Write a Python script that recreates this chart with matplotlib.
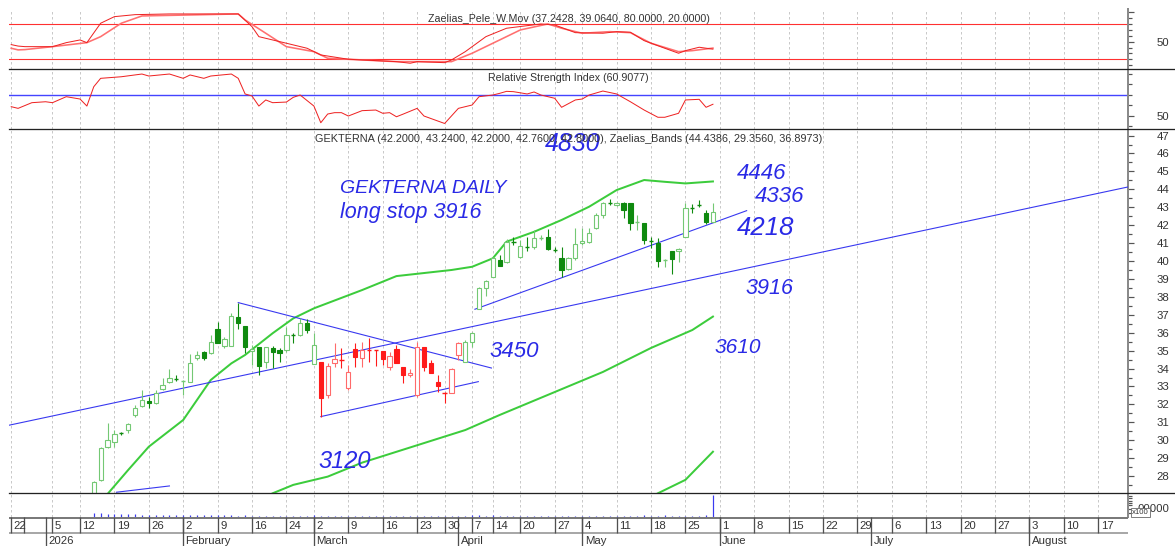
import matplotlib
matplotlib.use('Agg')
import matplotlib.pyplot as plt
from matplotlib.lines import Line2D
import matplotlib.ticker as mticker
import numpy as np
import pandas as pd

# ------------------------------------------------------------------ data
holidays = ['2025-12-25', '2025-12-26', '2025-12-31', '2026-01-01', '2026-01-06',
            '2026-02-23', '2026-03-25', '2026-04-03', '2026-04-06', '2026-04-10',
            '2026-04-13', '2026-05-01']
first_candle = '2026-01-14'

opens = [26.8, 27.79, 29.61, 29.92, 30.42, 30.57, 31.41, 31.91, 32.19, 32.06,
         32.84, 33.27, 33.42, 33.29, 33.27, 34.57, 34.9, 34.85, 36.19, 35.28,
         35.28, 36.9, 36.37, 35.0, 35.18, 34.39, 35.13, 35.04, 35.04, 35.9,
         35.87, 36.52, 34.26, 34.39, 32.53, 34.33, 34.5, 32.9, 35.07, 34.57,
         35.04, 35.02, 34.98, 34.07, 35.07, 34.07, 33.64, 32.53, 35.18, 34.29,
         33.23, 32.64, 32.62, 34.76, 34.39, 35.5, 37.3, 38.48, 39.13, 40.06,
         39.97, 41.1, 40.24, 40.78, 40.76, 41.3, 41.32, 40.62, 40.15, 39.54,
         40.15, 40.99, 41.08, 41.82, 42.57, 43.24, 43.13, 43.25, 43.22, 42.16,
         42.14, 41.13, 41.02, 40.06, 40.58, 40.58, 41.36, 42.96, 43.14, 42.7,
         42.2]
highs = [27.72, 29.6, 30.95, 30.57, 30.48, 30.98, 31.97, 32.8, 32.43, 32.8,
         33.46, 33.96, 33.64, 33.36, 34.81, 34.98, 34.98, 35.87, 36.62, 35.78,
         37.12, 37.68, 36.37, 35.32, 35.22, 35.22, 35.26, 35.13, 36.34, 35.97,
         36.8, 36.75, 35.97, 34.39, 34.29, 35.41, 35.13, 34.2, 35.45, 35.5,
         35.69, 35.04, 34.98, 34.94, 35.32, 34.07, 33.96, 35.5, 35.18, 34.48,
         33.64, 32.71, 34.01, 35.5, 35.59, 36.06, 38.57, 38.94, 40.24, 40.34,
         41.21, 41.36, 41.17, 41.32, 41.73, 41.45, 41.77, 40.76, 40.8, 40.24,
         41.82, 41.82, 41.82, 42.7, 43.31, 43.44, 43.31, 43.31, 43.22, 42.57,
         42.14, 41.36, 41.27, 40.1, 40.58, 40.71, 43.22, 43.18, 43.4, 42.85,
         43.24]
lows = [26.7, 27.7, 29.55, 29.65, 30.3, 30.39, 31.32, 31.87, 31.78, 32.02,
        32.8, 33.21, 33.33, 32.53, 33.27, 34.48, 34.48, 34.81, 35.41, 35.13,
        35.28, 36.19, 34.85, 34.2, 33.64, 34.01, 34.01, 34.39, 34.94, 35.41,
        35.82, 35.97, 34.26, 31.32, 32.34, 34.1, 34.01, 32.8, 34.07, 34.07,
        34.39, 34.14, 34.2, 33.92, 34.29, 33.18, 33.55, 32.43, 33.88, 33.77,
        32.71, 32.1, 32.62, 34.48, 34.39, 35.22, 37.3, 38.05, 39.09, 39.72,
        39.87, 40.9, 40.15, 40.58, 40.65, 41.17, 40.62, 40.52, 39.09, 39.5,
        40.06, 40.9, 41.0, 41.77, 42.38, 43.13, 43.07, 42.38, 41.73, 41.73,
        40.95, 40.71, 39.65, 39.65, 39.28, 39.97, 41.32, 42.66, 43.03, 42.07,
        42.2]
closes = [27.69, 29.55, 30.02, 30.35, 30.38, 30.91, 31.78, 32.25, 32.06, 32.62,
          33.1, 33.46, 33.38, 33.32, 34.29, 34.76, 34.61, 35.5, 35.45, 35.63,
          36.93, 36.52, 35.22, 35.1, 34.14, 35.18, 34.91, 34.85, 35.87, 35.87,
          36.56, 36.15, 35.32, 32.34, 34.16, 34.51, 34.48, 33.83, 34.63, 35.04,
          35.0, 35.0, 34.51, 34.7, 34.29, 33.64, 33.77, 35.22, 34.07, 33.77,
          33.05, 32.62, 33.96, 35.41, 35.5, 35.97, 38.48, 38.9, 40.15, 39.72,
          41.08, 41.06, 40.84, 40.76, 41.27, 41.32, 40.65, 40.6, 39.5, 40.15,
          40.95, 41.13, 41.58, 42.57, 43.25, 43.22, 43.25, 42.85, 42.14, 42.18,
          41.17, 41.11, 40.0, 40.06, 40.1, 40.67, 42.94, 42.94, 43.1, 42.19,
          42.76]
volumes = [18, 20, 15, 14, 12, 13, 12, 11, 10,
           9, 10, 8, 9, 10, 9, 8, 9, 10, 8,
           9, 8, 7, 8, 6, 7, 6, 5, 6, 5,
           5, 6, 5, 10, 7, 6, 5, 5, 6, 5,
           5, 4, 5, 4, 5, 4, 5, 4, 6, 5,
           4, 5, 4, 5, 6, 7, 9, 8, 7, 8,
           7, 6, 7, 6, 5, 6, 5, 6, 5, 6,
           5, 6, 5, 5, 6, 7, 6, 5, 6, 7,
           6, 8, 7, 6, 8, 7, 6, 7, 6, 7,
           8, 95]
red_span = ('2026-03-03', '2026-04-01')

# Zaelias_Pele_W.Mov (trading-day number, value)
pele_fast_days = [0, 1, 2, 6, 8, 10, 11, 13, 15, 18, 23, 33, 35, 36, 40, 43, 45, 49, 56,
                  58, 59, 63, 64, 66, 69, 72, 77, 79, 82, 86, 88, 90, 92, 95, 97, 98, 100, 102]
pele_fast_vals = [45, 42.5, 41.5, 41.5, 48.3, 52.9, 48.3, 81.3, 92.5, 95.9, 97.1, 97.1, 75.5,
                  58.5, 47.3, 38.8, 27.4, 20.1, 16, 13.3, 16, 14.3, 18.9, 33, 58.5, 72.8,
                  80.1, 78.4, 65.3, 64.3, 67, 66, 51.7, 38.8, 30.3, 34.7, 40.5, 37.24]
pele_slow_days = [0, 1, 2, 6, 11, 13, 16, 19, 33, 34, 37, 40, 44, 46, 56, 64, 67, 71, 74,
                  78, 80, 83, 87, 90, 93, 97, 99, 102]
pele_slow_vals = [38.8, 36, 36.5, 41.5, 48.3, 58.5, 81.3, 93.7, 97.1, 86.9, 64.3, 41.5, 33,
                  21.8, 16, 16, 30.3, 52.9, 69.9, 80.1, 72.8, 64.3, 67, 65.3, 47.3, 33, 34.7,
                  39.06]
pele_levels = [80, 20]

rsi_days = [0, 1, 3, 5, 6, 8, 10, 11, 12, 13, 16, 19, 20, 23, 25, 26, 28, 29, 32, 33, 34,
            35, 36, 37, 38, 40, 41, 42, 44, 45, 46, 47, 48, 49, 51, 53, 54, 55, 56, 57, 59,
            60, 63, 65, 67, 68, 70, 71, 72, 73, 75, 76, 77, 79, 80, 82, 83, 84, 86, 88, 90,
            92, 94, 95, 97, 98, 100, 101, 102]
rsi_vals = [58.6, 57, 62.4, 63.3, 62.4, 68.1, 65.9, 59.2, 77.6, 85.6, 87.1, 89.7, 87.8, 89.7,
            85.6, 88.8, 85.6, 87.8, 89.7, 85.6, 70.7, 68.8, 59.2, 65, 62.4, 63, 67.5, 69.7,
            59.2, 43.3, 51.6, 52.9, 52.9, 49.7, 54.8, 55.4, 52.3, 52.9, 49, 51.6, 57, 49.7,
            42.6, 57, 60.2, 68.1, 69.7, 71.3, 73.2, 72.9, 70.7, 72.6, 69.7, 66.6, 58, 65,
            65.9, 69.7, 73.5, 70.7, 63.3, 55.4, 48.5, 48.5, 52.3, 65, 65.6, 58, 60.91]
rsi_level = 70

band_upper_days = [14, 17, 20, 25, 29, 32, 34, 38, 41, 44, 51, 56, 64, 67, 70, 72, 76, 80,
                   84, 88, 92, 95, 98, 102]
band_upper_vals = [27.0, 28.34, 29.64, 31.13, 33.36, 34.29, 34.76, 35.97, 36.8, 37.36, 38.38,
                   39.16, 39.5, 39.68, 40.15, 41.08, 41.63, 42.29, 43.03, 43.96, 44.52, 44.42,
                   44.33, 44.44]
band_mid_days = [38, 41, 46, 51, 66, 71, 78, 86, 93, 99, 102]
band_mid_vals = [27.04, 27.51, 27.97, 28.75, 30.57, 31.41, 32.53, 33.81, 35.15, 36.15, 36.9]
band_low_days = [94, 98, 102]
band_low_vals = [27.04, 27.79, 29.36]

# hand-drawn trend lines: (day, price) -> (day, price)
trend_lines = [((-0.3, 30.84), (162.3, 44.13)),
               ((33.0, 37.68), (69.8, 34.03)),
               ((45.0, 31.32), (67.9, 33.27)),
               ((15.3, 27.10), (23.0, 27.45)),
               ((67.4, 37.31), (106.9, 42.81))]

# hand-written notes: (text, day, price, size)
notes = [('GEKTERNA DAILY', 47.8, 44.07, 14),
         ('long stop 3916', 47.8, 42.68, 15.5),
         ('4830', 77.6, 46.55, 18),
         ('4446', 105.5, 44.86, 16),
         ('4336', 108.1, 43.58, 16),
         ('4218', 105.5, 41.84, 18.5),
         ('3916', 106.7, 38.44, 15.5),
         ('3450', 69.5, 34.93, 16),
         ('3610', 102.3, 35.15, 15),
         ('3120', 44.6, 28.79, 17)]

week_ticks = ['2025-12-22', '2026-01-05', '2026-01-12', '2026-01-19', '2026-01-26',
              '2026-02-02', '2026-02-09', '2026-02-16', '2026-02-24', '2026-03-02',
              '2026-03-09', '2026-03-16', '2026-03-23', '2026-03-30', '2026-04-07',
              '2026-04-14', '2026-04-20', '2026-04-27', '2026-05-04', '2026-05-11',
              '2026-05-18', '2026-05-25', '2026-06-01', '2026-06-08', '2026-06-15',
              '2026-06-22', '2026-06-29', '2026-07-06', '2026-07-13', '2026-07-20',
              '2026-07-27', '2026-08-03', '2026-08-10', '2026-08-17']
month_ticks = [('2026-01-02', '2026'), ('2026-02-02', 'February'), ('2026-03-02', 'March'),
               ('2026-04-01', 'April'), ('2026-05-04', 'May'), ('2026-06-01', 'June'),
               ('2026-07-01', 'July'), ('2026-08-03', 'August')]

title_pele = 'Zaelias_Pele_W.Mov (37.2428, 39.0640, 80.0000, 20.0000)'
title_rsi = 'Relative Strength Index (60.9077)'
title_price = ('GEKTERNA (42.2000, 43.2400, 42.2000, 42.7600, 42.8000), '
               'Zaelias_Bands (44.4386, 29.3560, 36.8973)')

# ------------------------------------------------------------------ calendar
days = pd.bdate_range('2025-12-22', '2026-08-31')
days = days[~days.isin(pd.to_datetime(holidays))]
pos = {d: k for k, d in enumerate(days)}
def di(s):
    return pos[pd.Timestamp(s)]

c0 = di(first_candle)
cx = np.arange(c0, c0 + len(closes))
o = np.array(opens); h = np.array(highs); l = np.array(lows); c = np.array(closes)
red0, red1 = di(red_span[0]), di(red_span[1])

# ------------------------------------------------------------------ figure
W, H = 1175, 546
fig = plt.figure(figsize=(W / 100, H / 100), dpi=100)
fig.patch.set_facecolor('white')
PX = 72 / 100.0  # points per pixel

XL, XR = 9, 1128
XLIM = (-0.32, 162.33)

def add_ax(y0, y1):
    a = fig.add_axes([XL / W, 1 - y1 / H, (XR - XL) / W, (y1 - y0) / H])
    a.set_xlim(*XLIM)
    for s in ('top', 'bottom', 'left'):
        a.spines[s].set_visible(False)
    a.spines['right'].set_color('#8a8a8a')
    a.spines['right'].set_linewidth(2 * PX)
    a.tick_params(axis='x', bottom=False, labelbottom=False)
    a.yaxis.tick_right()
    a.tick_params(axis='y', which='major', direction='out', length=6 * PX, width=1.2 * PX,
                  color='#555555', labelsize=8.2, labelcolor='#333333', pad=16)
    a.tick_params(axis='y', which='minor', direction='out', length=3.5 * PX, width=1.2 * PX,
                  color='#555555')
    for lbl in a.get_yticklabels():
        lbl.set_fontfamily('Liberation Sans')
    return a

ax1 = add_ax(9.3, 69.3)
ax2 = add_ax(69.3, 129.3)
ax3 = add_ax(129.3, 493.3)
ax4 = add_ax(493.3, 517.3)

wk = [di(s) for s in week_ticks]
for a in (ax1, ax2, ax3, ax4):
    for k in wk:
        a.axvline(k, color='#c9c9c9', lw=1 * PX, ls=(0, (2.5, 2.5)), zorder=0)

# --- panel 1: Pele
ax1.set_ylim(3, 105)
for lv in pele_levels:
    ax1.axhline(lv, color='#ff3030', lw=1.1 * PX, zorder=2)
ax1.plot(pele_slow_days, pele_slow_vals, color='#ff7070', lw=1.6 * PX, zorder=3)
ax1.plot(pele_fast_days, pele_fast_vals, color='#ee2222', lw=1.0 * PX, zorder=4)
ax1.yaxis.set_major_locator(mticker.FixedLocator([50, 100]))
ax1.yaxis.set_major_formatter(mticker.FixedFormatter(['50', '']))
ax1.yaxis.set_minor_locator(mticker.MultipleLocator(10))

# --- panel 2: RSI
ax2.set_ylim(37.05, 94.2)
ax2.axhline(rsi_level, color='#4444ff', lw=1.4 * PX, zorder=2)
ax2.plot(rsi_days, rsi_vals, color='#ee2222', lw=1.0 * PX, zorder=3)
ax2.yaxis.set_major_locator(mticker.FixedLocator([50]))
ax2.yaxis.set_major_formatter(mticker.FixedFormatter(['50']))
ax2.yaxis.set_minor_locator(mticker.MultipleLocator(10))

# --- panel 3: price
ax3.set_ylim(27.04, 47.35)
ax3.yaxis.set_major_locator(mticker.MultipleLocator(1))
ax3.yaxis.set_major_formatter(mticker.FormatStrFormatter('%d'))
ax3.yaxis.set_minor_locator(mticker.MultipleLocator(0.5))

ax3.plot(band_upper_days, band_upper_vals, color='#3ccc3c', lw=2 * PX, zorder=3)
ax3.plot(band_mid_days, band_mid_vals, color='#3ccc3c', lw=2 * PX, zorder=3)
ax3.plot(band_low_days, band_low_vals, color='#3ccc3c', lw=2 * PX, zorder=3)

for (d0, p0), (d1, p1) in trend_lines:
    ax3.plot([d0, d1], [p0, p1], color='#3838f0', lw=1.1 * PX, zorder=4)

bw = 0.62
for k in range(len(c)):
    x = cx[k]
    red = red0 <= x <= red1
    up = c[k] >= o[k]
    if red:
        edge = '#ff6a6a' if up else '#ff1a1a'
        face = 'white' if up else '#ff1a1a'
    else:
        edge = '#74c874' if up else '#0f8a0f'
        face = 'white' if up else '#0f8a0f'
    ax3.vlines(x, l[k], h[k], color=edge, lw=1.1 * PX, zorder=5)
    lo, hi = min(o[k], c[k]), max(o[k], c[k])
    if hi - lo < 0.06:
        ax3.hlines((o[k] + c[k]) / 2, x - bw / 2, x + bw / 2, color=edge, lw=1.4 * PX, zorder=6)
    else:
        ax3.bar(x, hi - lo, bottom=lo, width=bw, facecolor=face, edgecolor=edge,
                linewidth=1.1 * PX, zorder=6)

for txt, d, p, sz in notes:
    ax3.text(d, p, txt, color='#2a2ae6', fontsize=sz, style='italic',
             family='Liberation Sans', ha='left', va='center', zorder=8, clip_on=True)

# --- panel 4: volume
ax4.set_ylim(0, 100)
ax4.vlines(cx, 0, volumes, color='#3a3af0', lw=1.2 * PX, zorder=3)
ax4.yaxis.set_major_locator(mticker.FixedLocator([]))
ax4.yaxis.set_minor_locator(mticker.FixedLocator([20, 35, 50, 60, 70, 80, 90]))

# --- date axis
axd = fig.add_axes([XL / W, 0, (XR - XL) / W, (H - 517.3) / H])
axd.set_xlim(*XLIM)
axd.set_ylim(H, 517.3)
axd.axis('off')
axd.hlines(518.3, XLIM[0], XLIM[1], color='#7a7a7a', lw=2 * PX)
axd.hlines(532.5, XLIM[0], XLIM[1], color='#a8a8a8', lw=2 * PX)
for s in week_ticks:
    k = di(s)
    axd.vlines(k, 517.3, 532.5, color='#505050', lw=1.3 * PX)
    axd.text(k + 0.35, 526, str(pd.Timestamp(s).day), fontsize=8.2, color='#333333',
             family='Liberation Sans', ha='left', va='center')
axd.vlines(1.9, 517.3, 532.5, color='#505050', lw=1.3 * PX)
for s, name in month_ticks:
    k = di(s)
    axd.vlines(k, 517.3, H, color='#505050', lw=1.3 * PX)
    axd.text(k + 0.35, 540.5, name, fontsize=8.2, color='#333333',
             family='Liberation Sans', ha='left', va='center')

# --- panel separators & titles
for yy in (69.3, 129.3, 493.3):
    fig.add_artist(Line2D([XL / W, 1.0], [1 - yy / H, 1 - yy / H], color='#222222',
                          lw=1.3 * PX))
cxp = (XL + XR) / 2 / W
for txt, yy in ((title_pele, 19), (title_rsi, 78.5), (title_price, 138.5)):
    fig.text(cxp, 1 - yy / H, txt, fontsize=7.85 if txt == title_price else 7.7,
             color='#333333', family='Liberation Sans', ha='center', va='center')

fig.text(1169 / W, 1 - 509.5 / H, '00000', fontsize=8.2, color='#333333',
         family='Liberation Sans', ha='right', va='center')
fig.text(1140.5 / W, 1 - 512.5 / H, 'x100', fontsize=5.6, color='#333333',
         family='Liberation Sans', ha='center', va='center',
         bbox=dict(boxstyle='square,pad=0.15', facecolor='white', edgecolor='#666666',
                   linewidth=0.6))

fig.savefig('out.png', dpi=100, facecolor='white')
